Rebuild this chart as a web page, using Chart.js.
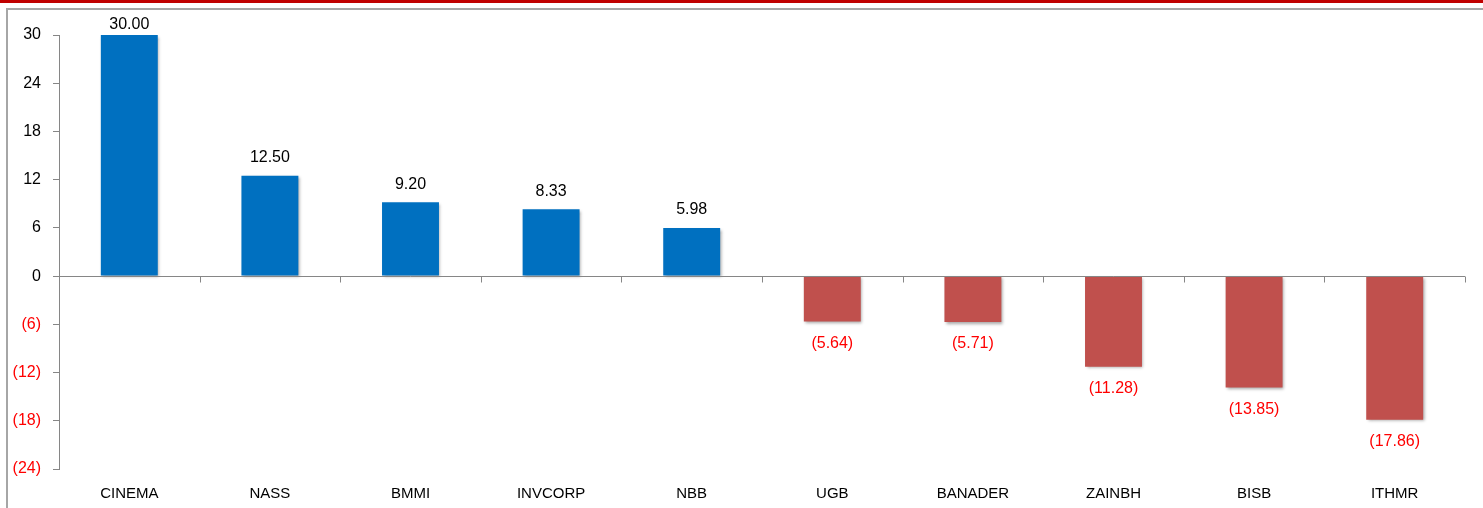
<!DOCTYPE html>
<html>
<head>
<meta charset="utf-8">
<script src="https://cdn.jsdelivr.net/npm/chart.js@4.4.1/dist/chart.umd.min.js"></script>
<style>
  html, body { margin: 0; padding: 0; background: #fff; overflow: hidden; }
  #band { position: absolute; left: 0; top: 0; width: 1483px; height: 3px; background: #C00000; }
  #frame { position: absolute; left: 6px; top: 8px; width: 1490px; height: 520px; border-left: 2px solid #a6a6a6; border-top: 2px solid #a6a6a6; }
  #myBarChart { position: absolute; left: 0; top: 0; }
</style>
</head>
<body>
<div id="band"></div>
<div id="frame"></div>
<canvas id="myBarChart" width="1483" height="508"></canvas>
<script>
var categories = ["CINEMA", "NASS", "BMMI", "INVCORP", "NBB", "UGB", "BANADER", "ZAINBH", "BISB", "ITHMR"];
var changes = [30.00, 12.50, 9.20, 8.33, 5.98, -5.64, -5.71, -11.28, -13.85, -17.86];
var yTicks = [-24, -18, -12, -6, 0, 6, 12, 18, 24, 30];

var blue = '#0070C0';
var red = '#C0504D';
var axisGray = '#868686';

function fmt(v, digits) {
    return v < 0 ? '(' + Math.abs(v).toFixed(digits) + ')' : v.toFixed(digits);
}

// shadow under the bars
var barShadow = {
    id: 'barShadow',
    beforeDatasetsDraw: function(chart) {
        var c = chart.ctx;
        c.save();
        c.shadowColor = 'rgba(0,0,0,0.35)';
        c.shadowBlur = 3;
        c.shadowOffsetX = 1.5;
        c.shadowOffsetY = 1.5;
    },
    afterDatasetsDraw: function(chart) {
        chart.ctx.restore();
    }
};

// zero line + category tick marks + value labels
var extras = {
    id: 'extras',
    afterDatasetsDraw: function(chart) {
        var c = chart.ctx;
        var area = chart.chartArea;
        var y0 = chart.scales.y.getPixelForValue(0);
        c.save();
        c.strokeStyle = axisGray;
        c.lineWidth = 1;
        c.beginPath();
        c.moveTo(area.left, Math.round(y0) + 0.5);
        c.lineTo(area.right, Math.round(y0) + 0.5);
        var step = (area.right - area.left) / categories.length;
        for (var i = 0; i <= categories.length; i++) {
            var x = Math.round(area.left + step * i) + 0.5;
            c.moveTo(x, Math.round(y0) + 0.5);
            c.lineTo(x, Math.round(y0) + 6.5);
        }
        c.stroke();

        c.font = '16px "Liberation Sans"';
        c.textAlign = 'center';
        c.textBaseline = 'middle';
        var meta = chart.getDatasetMeta(0);
        meta.data.forEach(function(bar, i) {
            var v = changes[i];
            if (v >= 0) {
                c.fillStyle = '#000';
                c.fillText(fmt(v, 2), bar.x, Math.max(bar.y - 18, 25));
            } else {
                c.fillStyle = '#FF0000';
                c.fillText(fmt(v, 2), bar.x, bar.y + 22);
            }
        });
        c.restore();
    }
};

var ctx = document.getElementById('myBarChart').getContext('2d');
var myBarChart = new Chart(ctx, {
    type: 'bar',
    data: {
        labels: categories,
        datasets: [{
            data: changes,
            backgroundColor: changes.map(function(v) { return v < 0 ? red : blue; }),
            borderWidth: 0,
            categoryPercentage: 1,
            barPercentage: 0.405
        }]
    },
    options: {
        responsive: false,
        animation: false,
        devicePixelRatio: 1,
        layout: { padding: { left: 0, right: 18, top: 35, bottom: 0 } },
        plugins: {
            legend: { display: false },
            tooltip: { enabled: false }
        },
        scales: {
            x: {
                grid: { display: false, drawTicks: false, tickLength: 0 },
                border: { display: false },
                ticks: {
                    color: '#000',
                    padding: 16,
                    maxRotation: 0,
                    autoSkip: false,
                    font: { family: 'Liberation Sans', size: 15 }
                },
                afterFit: function(scale) { scale.height = 39; }
            },
            y: {
                min: yTicks[0],
                max: yTicks[yTicks.length - 1],
                afterBuildTicks: function(scale) {
                    scale.ticks = yTicks.map(function(v) { return { value: v }; });
                },
                grid: {
                    drawOnChartArea: false,
                    drawTicks: true,
                    tickLength: 6,
                    color: axisGray
                },
                border: { display: true, color: axisGray },
                ticks: {
                    padding: 12,
                    color: function(c) { return c.tick.value < 0 ? '#FF0000' : '#000'; },
                    font: { family: 'Liberation Sans', size: 16 },
                    callback: function(value) { return fmt(value, 0); }
                },
                afterFit: function(scale) { scale.width = 59; }
            }
        }
    },
    plugins: [barShadow, extras]
});
</script>
</body>
</html>
